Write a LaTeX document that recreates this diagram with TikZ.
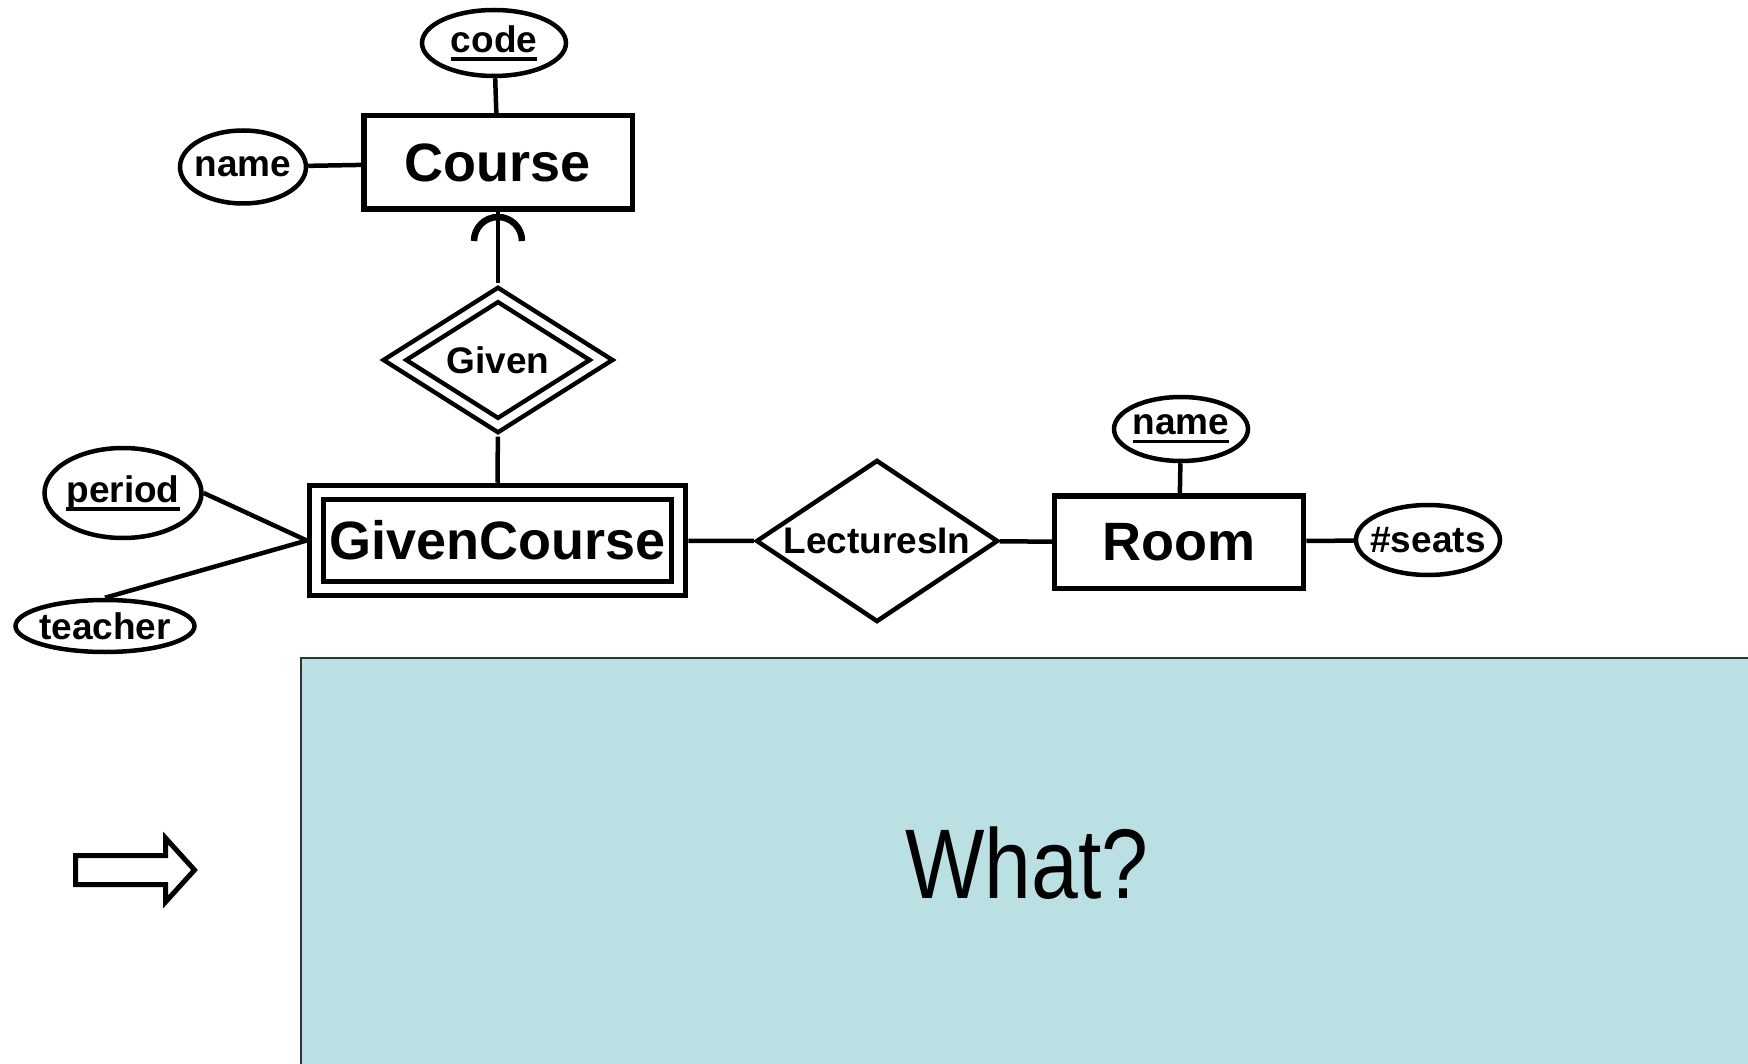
\documentclass[tikz,border=0pt]{standalone}
\usepackage{fontspec}
\setmainfont{Liberation Sans}
\usepackage{tikz}
\usetikzlibrary{shapes.geometric}
\definecolor{WhatBlue}{RGB}{187, 224, 227}
\newcommand{\keyattr}[1]{\setbox0=\hbox{#1}\rlap{\rule[-8.5pt]{\wd0}{3.5pt}}\box0}

\begin{document}
\begin{tikzpicture}[x=1pt, y=-1pt,
    entity/.style={draw, rectangle, line width=5.5pt, inner sep=0pt, font=\fontsize{54}{60}\selectfont\bfseries},
    weak/.style={entity, double, double distance=8.5pt, line width=5.5pt, outer sep=9.75pt},
    attr/.style={draw, ellipse, line width=4.5pt, inner xsep=-10pt, inner ysep=0pt, font=\fontsize{37}{40}\selectfont\bfseries},
    relship/.style={draw, diamond, aspect=1.6, line width=4.5pt, inner sep=0pt, font=\fontsize{37}{40}\selectfont\bfseries},
    link/.style={line width=4.5pt}]
    \useasboundingbox (0,0) rectangle (1748,1064);

    % Entidades
    \node[entity, minimum width=268.5pt, minimum height=93.5pt] (course) at (498,162.5) {Course};
    \node[weak, minimum width=362pt, minimum height=96pt] (gcourse) at (497.5,540.5) {GivenCourse};
    \node[entity, minimum width=249pt, minimum height=92.5pt] (room) at (1179,542) {Room};

    % Relaciones
    \node[relship, double, double distance=7.5pt, outer sep=8.25pt, minimum width=213pt, minimum height=137pt] (given) at (498,360) {Given};
    \node[relship, minimum width=242pt, minimum height=162pt] (lectin) at (877,541) {LecturesIn};

    % Atributos
    \node[attr, minimum width=144pt, minimum height=66pt] (code) at (494,43) {\keyattr{code}};
    \node[attr, minimum width=126pt, minimum height=73pt] (cname) at (243,167) {name};
    \node[attr, minimum width=157pt, minimum height=90pt] (period) at (123,493) {\keyattr{period}};
    \node[attr, minimum width=179pt, minimum height=52pt] (teacher) at (105,626) {teacher};
    \node[attr, minimum width=134pt, minimum height=64pt] (rname) at (1181,429) {\keyattr{name}};
    \node[attr, minimum width=144pt, minimum height=70pt] (seats) at (1428,540) {\#seats};

    % Conexiones
    \draw[link] (code) -- (course);
    \draw[link] (cname) -- (course);
    \draw[link] (given) -- (course);
    \draw[link] (given) -- (gcourse);
    \draw[link] (period.east) -- (gcourse.west);
    \draw[link] (teacher.north) -- (gcourse.west);
    \draw[link] (gcourse) -- (lectin);
    \draw[link] (lectin) -- (room);
    \draw[link] (rname) -- (room);
    \draw[link] (seats) -- (room);
    \draw[line width=6.5pt] ([xshift=-24pt, yshift=-29pt]course.south) arc[start angle=180, end angle=0, radius=24pt];

    % Flecha
    \draw[line width=5pt] (75.5,855.5) -- (165.5,855.5) -- (165.5,838) -- (194.5,870) -- (165.5,902) -- (165.5,884.5) -- (75.5,884.5) -- cycle;

    % Pregunta
    \draw[fill=WhatBlue, draw=black!80, line width=2pt] (301,658) rectangle (1760,1080);
    \node[font=\fontsize{99}{110}\selectfont, xscale=0.85] (what) at (1027,863) {What?};
\end{tikzpicture}
\end{document}
